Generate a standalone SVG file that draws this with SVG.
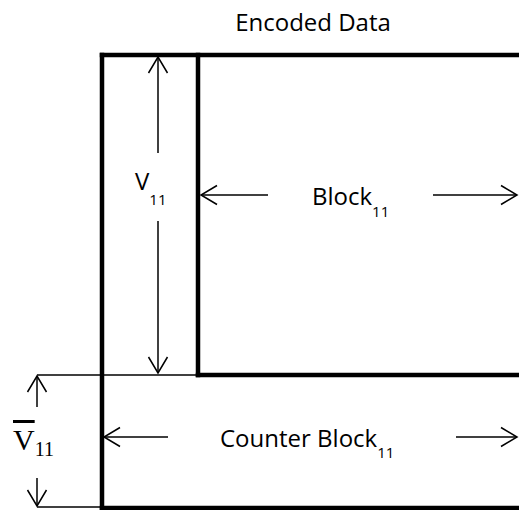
<svg xmlns="http://www.w3.org/2000/svg" width="519" height="510" viewBox="0 0 519 510">
  <style>
    .thick { stroke: #000; stroke-width: 4.5; fill: none; stroke-linecap: square; }
    .thin { stroke: #000; stroke-width: 1.5; fill: none; }
    .arrow { stroke: #000; stroke-width: 1.5; fill: none; marker-end: url(#open); }
    .lbl { font-family: "Open Sans", "Liberation Sans", sans-serif; font-size: 24px; fill: #000; }
    .sub { font-size: 15px; }
    .math { font-family: "Liberation Serif", "DejaVu Serif", serif; font-size: 30px; fill: #000; }
    .msub { font-size: 20px; }
  </style>
  <defs>
    <marker id="open" markerUnits="userSpaceOnUse" markerWidth="20" markerHeight="22" refX="0" refY="0" orient="auto" overflow="visible">
      <path d="M-16,-9.5 L0,0 L-16,9.5" stroke="#000" stroke-width="1.5" fill="none"/>
    </marker>
  </defs>

  <g id="title">
    <text class="lbl" x="313" y="31" text-anchor="middle">Encoded Data</text>
  </g>

  <g id="encoded-data-frame">
    <line class="thick" x1="102" y1="55" x2="520" y2="55"/>
    <line class="thick" x1="102" y1="55" x2="102" y2="508"/>
    <line class="thick" x1="102" y1="508" x2="520" y2="508"/>
  </g>

  <g id="block11">
    <line class="thick" x1="198" y1="55" x2="198" y2="375"/>
    <line class="thick" x1="198" y1="375" x2="520" y2="375"/>
    <text class="lbl" x="312" y="205">Block<tspan class="sub" dy="12">11</tspan></text>
  </g>

  <g id="v11">
    <text class="lbl" x="135" y="190">V<tspan class="sub" dy="15">11</tspan></text>
  </g>

  <g id="counter-block11">
    <text class="lbl" x="220" y="447">Counter Block<tspan class="sub" dy="11">11</tspan></text>
  </g>

  <g id="vbar11">
    <text class="math" x="13" y="450"><tspan style="text-decoration: overline;">V</tspan><tspan class="msub" dy="6">11</tspan></text>
  </g>

  <g id="connectors">
    <line class="thin" x1="37" y1="375" x2="198" y2="375"/>
    <line class="thin" x1="37" y1="507" x2="102" y2="507"/>
    <line class="arrow" x1="158" y1="153" x2="158" y2="57"/>
    <line class="arrow" x1="158" y1="221" x2="158" y2="373"/>
    <line class="arrow" x1="268" y1="195" x2="201" y2="195"/>
    <line class="arrow" x1="433" y1="195" x2="517" y2="195"/>
    <line class="arrow" x1="37" y1="407" x2="37" y2="376"/>
    <line class="arrow" x1="37" y1="478" x2="37" y2="506"/>
    <line class="arrow" x1="168" y1="437" x2="104" y2="437"/>
    <line class="arrow" x1="456" y1="437" x2="517" y2="437"/>
  </g>
</svg>
